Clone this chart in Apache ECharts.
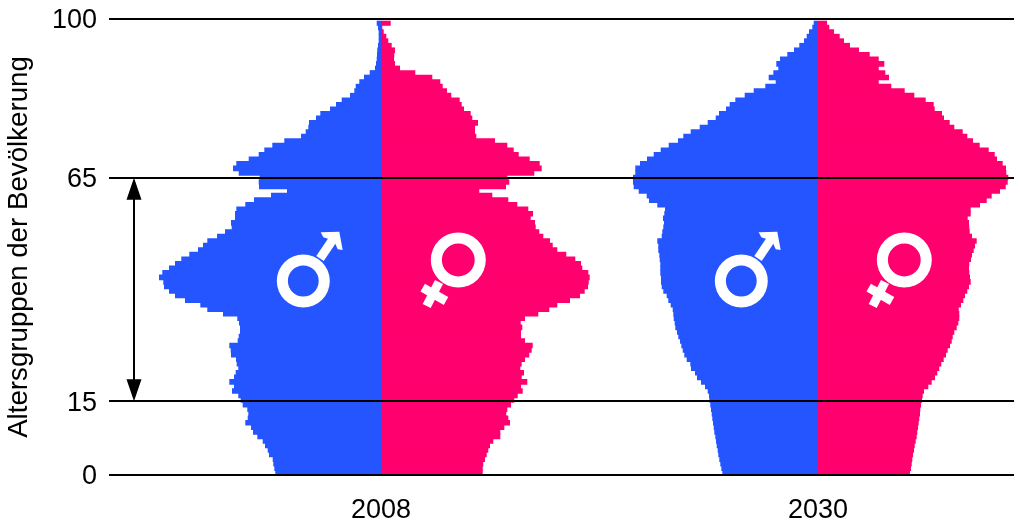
<!DOCTYPE html>
<html><head><meta charset="utf-8">
<style>html,body{margin:0;padding:0;background:#fff}#c{width:1020px;height:523px}</style>
<script src="https://cdn.jsdelivr.net/npm/echarts@6/dist/echarts.min.js"></script>
</head><body><div id="c"></div>
<script>
// Widths per age (0..99), arbitrary population units
const male2008 = [105.7,106.7,107.7,108.3,112,113.3,116,118.3,123.7,128,
130,135.7,133.3,132.7,133.7,138.3,140.3,142.7,149,147,
151.7,147,145.3,142.7,144.3,145,150,150.3,151.7,143.3,
142.3,141,141,142,143.7,158,173.7,180.7,196,206,
212,217,217.7,222,218.7,212,206,199.7,191.7,183,
178,173.7,164,156,149.3,150,146,146,144.7,135.7,
127,110,94,122,122.3,121.3,142.3,148,144.7,132.3,
122.3,116.7,108.7,96.7,80,75.3,72.7,72,65,60.7,
51,45,39.3,31,26.7,25.3,21.7,17,11.3,6,
5,4.3,4,3.7,3,2.3,2.3,2.3,3,4.3];
const female2008 = [101.7,101.7,102.3,104,105.7,107.3,109,112.3,119.3,119.3,
123.3,129,127.3,125.3,126.3,130,133.3,136.7,141.7,140,
146.3,140.7,143,139.3,140.7,144,148.3,150.7,151.7,144,
140,140,141.3,139.7,144,157.3,168.3,176.3,189,199,
203.7,207,207.7,208.7,207.3,201.3,200,194.3,185.3,176.3,
171.7,169,162.3,158.3,154.7,154,149.7,152,147.3,136.3,
127.3,111.3,98.3,125,128.3,126.3,153.3,160.7,158.7,148.7,
137.7,132.7,126.3,114,95.3,94,94,97,91.3,89.7,
83,80.7,78.7,70.3,66,61.7,59.3,51.3,34.3,19,
14,13,13.3,14,10.7,7.3,5.3,2.7,1.3,9.7];
const male2030 = [95.7,96.7,97.7,98.7,99.7,100.3,101.3,102,102.7,103.7,
104.3,105,105.7,106.3,107,107.7,108.7,109,110.3,113,
117,121,123,127,127.7,131.3,133.7,135.3,136.7,138,
139.7,141,142.7,143.3,144.3,144.7,145.3,147.3,149.7,151.3,
154.7,156.3,157,157,157.7,157.7,157.7,158.3,158.7,159.7,
159.7,160.7,156.3,155.7,154.7,154,155,153.7,153,160.7,
169,171.3,179.3,184.3,185,185,182.7,182.7,178,171,
164.3,157.3,149.3,140,134.7,127.3,118.3,110.3,102.3,99,
92,88.3,82.7,73.3,64.3,52.7,42.3,49.3,44.7,39.7,
41.7,38,30.7,24,18.7,14,11.3,9,5.7,4.3];
const female2030 = [92,93,93.7,94.3,95,96,96.7,97.7,98.7,99.3,
100,100.7,101.3,102,102.3,103,104,104.7,106,110.3,
113.7,117,119.3,121.3,123.3,125.7,128,129.7,132,133.7,
134.7,136.3,138.7,140.3,141.3,141.3,140.7,143,145.3,147,
149.3,151,152.7,152,151.3,151,151.3,153,154,155.7,
157,158.7,154,151.7,151.3,151,149.7,152.7,152.7,162,
168.7,173.7,182,187.7,189.7,190.3,188.3,188,184.7,179,
176.7,170.7,161.7,155,149.3,144.7,136.3,131.7,126,124,
116.7,115.7,107.7,96.3,86.7,73.3,60.7,71,67.3,60.7,
66.3,60.7,51.7,41,32,26,21.7,16,11.3,9];
const ages = male2008.map((_, i) => 'a' + i);
const years = ['2008', '2030'];
const lineAges = [0, 16.2, 65.15, 100];
const lineLabels = ['0', '15', '65', '100'];
const yAxisTitle = 'Altersgruppen der Bevölkerung';

const BLUE = '#2455ff', PINK = '#ff006e', FONT = '"Liberation Sans", Arial, sans-serif', FS = 27;
const neg = a => a.map(v => -v);

function pyramidAxes(idx, half, year) {
  return {
    x: { gridIndex: idx, type: 'value', min: -half, max: half, name: year, nameLocation: 'middle', nameGap: 22,
         nameTextStyle: { fontFamily: FONT, fontSize: FS, color: '#000' },
         axisLine: { show: false }, axisTick: { show: false }, axisLabel: { show: false }, splitLine: { show: false } },
    y: { gridIndex: idx, type: 'category', data: ages, show: false, boundaryGap: true }
  };
}
function bars(idx, data, color) {
  return { type: 'bar', xAxisIndex: idx, yAxisIndex: idx, data, stack: 's' + idx, barWidth: 5.6,
           itemStyle: { color }, silent: true, z: 2 };
}
const a1 = pyramidAxes(1, 225, years[0]), a2 = pyramidAxes(2, 200, years[1]);

function maleSym(dx) {
  const s = { fill: '#fff' }, z = 50;
  return [
    { type: 'ring', z, silent: true, shape: { cx: 303.3 + dx, cy: 281, r: 26.5, r0: 15.4 }, style: s },
    { type: 'line', z, silent: true, shape: { x1: 320 + dx, y1: 258.5, x2: 333.5 + dx, y2: 238.5 }, style: { stroke: '#fff', lineWidth: 9 } },
    { type: 'polygon', z, silent: true, shape: { points: [[320.7 + dx, 232.3], [339.3 + dx, 231.7], [342.7 + dx, 250], [337.7 + dx, 249.3], [334 + dx, 240.7], [323.3 + dx, 237.3]] }, style: s }
  ];
}
function femaleSym(dx) {
  const z = 50;
  return [
    { type: 'ring', z, silent: true, shape: { cx: 458.3 + dx, cy: 260, r: 27.5, r0: 16.4 }, style: { fill: '#fff' } },
    { type: 'line', z, silent: true, shape: { x1: 439 + dx, y1: 282, x2: 426.7 + dx, y2: 306 }, style: { stroke: '#fff', lineWidth: 9 } },
    { type: 'line', z, silent: true, shape: { x1: 422.7 + dx, y1: 287.7, x2: 446 + dx, y2: 301 }, style: { stroke: '#fff', lineWidth: 9 } }
  ];
}

const chart = echarts.init(document.getElementById('c'), null, { renderer: 'canvas' });
chart.setOption({
  animation: false,
  backgroundColor: '#fff',
  grid: [
    { left: 109, width: 905, top: 19, height: 456, outerBoundsMode: 'none' },
    { left: 156, width: 450, top: 20.7, height: 454.3, outerBoundsMode: 'none' },
    { left: 618, width: 400, top: 20.7, height: 454.3, outerBoundsMode: 'none' }
  ],
  xAxis: [
    { gridIndex: 0, type: 'value', min: 0, max: 905, show: false },
    a1.x, a2.x
  ],
  yAxis: [
    { gridIndex: 0, type: 'value', min: 0, max: 100, name: yAxisTitle, nameLocation: 'middle', nameGap: 76, nameRotate: 90,
      nameTextStyle: { fontFamily: FONT, fontSize: 27.7, color: '#000' },
      axisLine: { show: false }, axisTick: { show: false }, splitLine: { show: false },
      axisLabel: { customValues: lineAges, margin: 12, fontFamily: FONT, fontSize: FS, color: '#000',
                   rich: { a: { fontFamily: FONT, fontSize: FS, color: '#000', padding: [4, 0, 0, 0] } },
                   formatter: v => '{a|' + lineLabels[lineAges.indexOf(v)] + '}' } },
    a1.y, a2.y
  ],
  series: [
    bars(1, neg(male2008), BLUE), bars(1, female2008, PINK),
    bars(2, neg(male2030), BLUE), bars(2, female2030, PINK),
    { type: 'line', xAxisIndex: 0, yAxisIndex: 0, data: [[0, 0]], showSymbol: false, silent: true, z: 20,
      lineStyle: { width: 0 },
      markLine: { silent: true, symbol: 'none', animation: false, label: { show: false },
        lineStyle: { color: '#000', width: 2, type: 'solid' },
        data: lineAges.map(v => [{ coord: [0, v] }, { coord: [905, v] }]) } },
    { type: 'line', xAxisIndex: 0, yAxisIndex: 0, data: [[25, 40]], showSymbol: false, silent: true, z: 21,
      lineStyle: { width: 0 },
      markLine: { silent: true, symbol: ['triangle', 'triangle'], symbolSize: [15, 22], animation: false, label: { show: false },
        lineStyle: { color: '#000', width: 2, type: 'solid' }, itemStyle: { color: '#000' },
        data: [[{ coord: [25, lineAges[2] - 2.4] }, { coord: [25, lineAges[1] + 2.4] }]] } }
  ],
  graphic: [].concat(maleSym(0), femaleSym(0), maleSym(438), femaleSym(446))
});
</script></body></html>
